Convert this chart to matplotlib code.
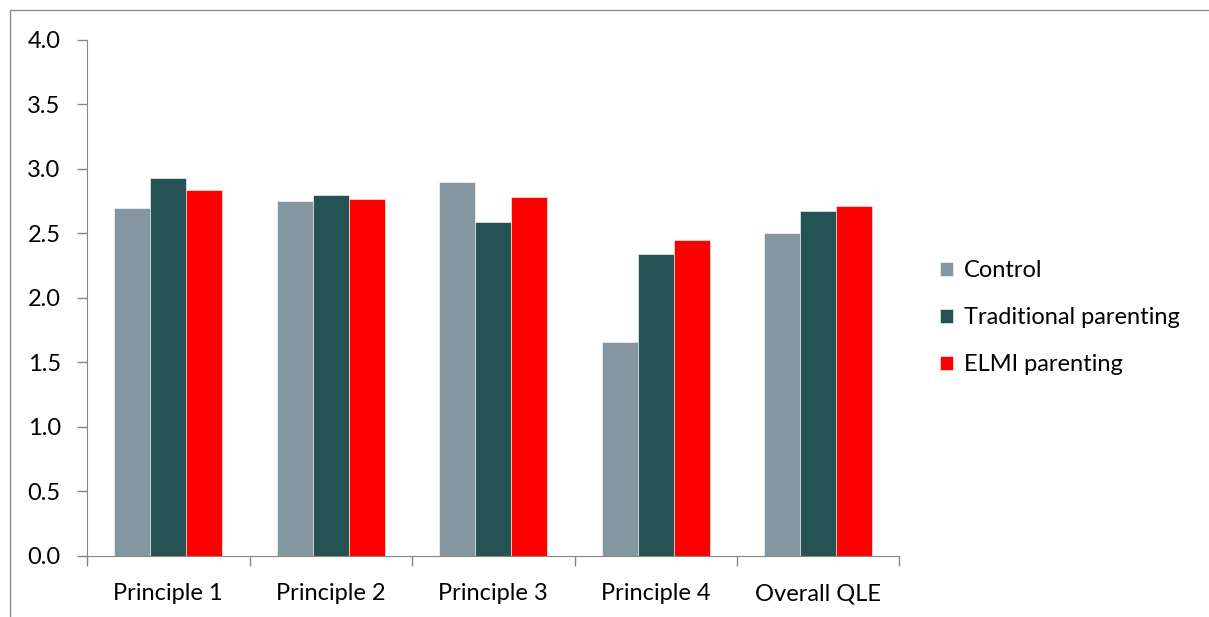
import numpy as np
from matplotlib import pyplot as plt
from matplotlib.patches import Rectangle

categories = ["Principle 1", "Principle 2", "Principle 3", "Principle 4", "Overall QLE"]
control = [2.70, 2.75, 2.90, 1.66, 2.50]
traditional = [2.93, 2.80, 2.59, 2.34, 2.67]
elmi = [2.84, 2.77, 2.78, 2.445, 2.71]
series_names = ["Control", "Traditional parenting", "ELMI parenting"]
colors = ["#8497a0", "#255252", "#ff0000"]

plt.rcParams['font.family'] = ['Lato', 'DejaVu Sans']

fig = plt.figure(figsize=(12.09, 6.17), dpi=100)
ax = fig.add_axes([0.072, 0.0994, 0.672, 0.8358])

# outer chart border (cut off at right and bottom like the reference)
fig.patches.append(Rectangle((10 / 1209, -0.1), 1.2, 1 - 10 / 617 + 0.1, transform=fig.transFigure,
                             fill=False, edgecolor="#8c8c8c", linewidth=1.0))

x = np.arange(len(categories))
w = 1 / 4.5
for i, (vals, name, c) in enumerate(zip([control, traditional, elmi], series_names, colors)):
    ax.bar(x + (i - 1) * w, vals, w, color=c, label=name, edgecolor="white", linewidth=0.4)

ax.set_xlim(-0.5, len(categories) - 0.5)
ax.set_ylim(0, 4.0)
ax.set_yticks(np.arange(0, 4.01, 0.5))
ax.set_yticklabels([f"{v:.1f}" for v in np.arange(0, 4.01, 0.5)])
ax.set_xticks(x)
ax.set_xticklabels(categories)
ax.set_xticks(np.arange(-0.5, len(categories)), minor=True)
ax.tick_params(axis='x', which='major', length=0, pad=20, labelsize=17)
ax.tick_params(axis='x', which='minor', length=7, color="#868686", width=1)
ax.tick_params(axis='y', length=7, color="#868686", width=1, labelsize=17, pad=12)

for s in ["top", "right"]:
    ax.spines[s].set_visible(False)
for s in ["left", "bottom"]:
    ax.spines[s].set_color("#868686")

ax.legend(loc="center left", bbox_to_anchor=(1.024, 0.461), frameon=False, fontsize=17,
          handlelength=0.55, handleheight=0.55, handletextpad=0.45, labelspacing=1.1)

plt.savefig('out.png', dpi=100)
